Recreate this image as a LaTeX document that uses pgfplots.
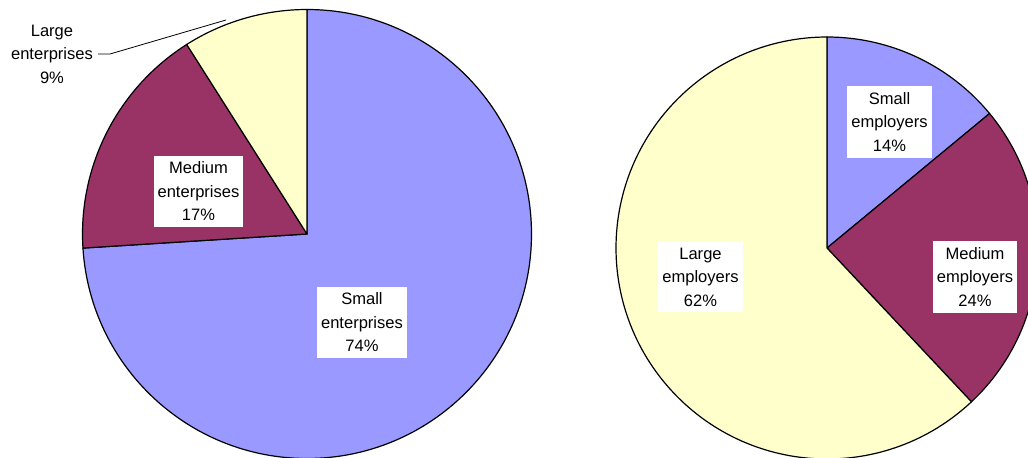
\documentclass[border=0pt]{standalone}
\usepackage{pgfplots}
\pgfplotsset{compat=1.18}
\usepackage{pgfplotstable}
\usepackage{fontspec}
\setmainfont{Liberation Sans}

\definecolor{smallc}{RGB}{153,153,255}
\definecolor{mediumc}{RGB}{153,51,102}
\definecolor{largec}{RGB}{255,255,204}

% share of each group, clockwise from 12 o'clock
\pgfplotstableread{
value color
74 smallc
17 mediumc
9 largec
}\enterprises

\pgfplotstableread{
value color
14 smallc
24 mediumc
62 largec
}\employers

% #1 table, #2,#3 centre (axis units), #4 radius (axis units)
\newcommand\drawpie[4]{%
  \pgfplotstablegetrowsof{#1}%
  \pgfmathtruncatemacro\lastrow{\pgfplotsretval-1}%
  \def\startangle{90}%
  \pgfplotsforeachungrouped \i in {0,...,\lastrow}{%
    \pgfplotstablegetelem{\i}{value}\of{#1}\let\share\pgfplotsretval
    \pgfplotstablegetelem{\i}{color}\of{#1}\let\slicecolor\pgfplotsretval
    \pgfmathsetmacro\endangle{\startangle-3.6*\share}%
    \edef\temp{\noexpand\filldraw[fill=\slicecolor,draw=black,line width=0.9pt,line join=round]
      (axis cs:#2,#3) -- ++(\startangle:#4*0.75pt)
      arc[start angle=\startangle,end angle=\endangle,radius=#4*0.75pt] -- cycle;}%
    \temp
    \let\startangle\endangle
  }%
}

\begin{document}
\begin{tikzpicture}[
    lbl/.style={fill=white, align=center, inner xsep=3pt, inner ysep=4.5pt,
      font=\fontsize{12.4}{17.6}\selectfont},
]
\begin{axis}[
    width=771pt, height=342.75pt, scale only axis,
    xmin=0, xmax=1028, ymin=0, ymax=457, y dir=reverse,
    hide axis, clip=true,
]
\drawpie{\enterprises}{307}{234}{224.5}
\drawpie{\employers}{827}{248}{211}

\draw[black, line width=0.6pt] (axis cs:98,54) -- (axis cs:110,54) -- (axis cs:226,20);

\node[lbl] at (axis cs:52,54) {Large\\enterprises\\9\%};
\node[lbl] at (axis cs:198.5,191.5) {Medium\\enterprises\\17\%};
\node[lbl] at (axis cs:362,322.5) {Small\\enterprises\\74\%};
\node[lbl] at (axis cs:889.5,122) {Small\\employers\\14\%};
\node[lbl] at (axis cs:975,277) {Medium\\employers\\24\%};
\node[lbl] at (axis cs:700.5,277) {Large\\employers\\62\%};
\end{axis}
\pgfresetboundingbox
\useasboundingbox (current axis.south west) rectangle (current axis.north east);
\end{tikzpicture}
\end{document}
